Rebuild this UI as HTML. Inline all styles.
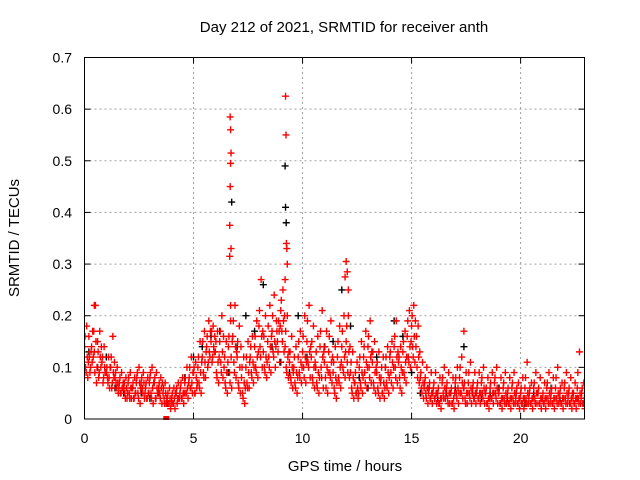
<!DOCTYPE html>
<html><head><meta charset="utf-8"><style>
html,body{margin:0;padding:0;background:#fff;}
svg{display:block;font-family:"Liberation Sans",sans-serif;}
</style></head><body>
<svg id="chart" width="640" height="480" viewBox="0 0 640 480">
<defs><clipPath id="pc"><rect x="84.5" y="57.5" width="500" height="365"/></clipPath></defs>
<text x="344" y="32" font-size="15" text-anchor="middle">Day 212 of 2021, SRMTID for receiver anth</text>
<text x="345" y="471" font-size="15" text-anchor="middle">GPS time / hours</text>
<text transform="translate(19,238) rotate(-90)" font-size="15" text-anchor="middle">SRMTID / TECUs</text>
<g id="grid"></g>
<g id="ticks"></g>
<g id="black" clip-path="url(#pc)"></g>
<g id="red" clip-path="url(#pc)"></g>
<rect x="84.5" y="57.5" width="500" height="361.5" fill="none" stroke="#000" stroke-width="1"/>
</svg>
<script>
const xTicks=[0,5,10,15,20];
const yTicks=[0,0.1,0.2,0.3,0.4,0.5,0.6,0.7];
const yTickLabels=["0","0.1","0.2","0.3","0.4","0.5","0.6","0.7"];
const trackStep=0.2;
const trackA=[.14,.16,.12,.15,.11,.09,.10,.08,.07,.06, .07,.06,.08,.07,.06,.08,.07,.06,.05,.04, .04,.05,.06,.07,.08,.09,.10,.12,.14,.15, .13,.15,.10,.14,.16,.12,.08,.10,.12,.14, .18,.13,.15,.17,.19,.21,.14,.11,.10,.12, .13,.15,.12,.10,.14,.11,.13,.09,.12,.14, .15,.09,.07,.10,.12,.14,.11,.09,.08,.10, .12,.14,.11,.13,.16,.18,.14,.08,.07,.06, .06,.05,.07,.06,.05,.07,.08,.06,.07,.06, .06,.07,.05,.06,.07,.05,.06,.05,.06,.05, .05,.06,.05,.06,.05,.04,.06,.05,.06,.05,.06,.05,.04,.06,.05];
const trackB=[.10,.09,.13,.08,.07,.08,.06,.07,.05,.05, .05,.04,.05,.06,.04,.05,.04,.05,.04,.03, .03,.03,.04,.05,.06,.05,.07,.09,.10,.11, .09,.11,.07,.09,.11,.07,.05,.07,.09,.10, .14,.10,.12,.13,.15,.17,.10,.08,.07,.09, .10,.11,.08,.07,.10,.08,.09,.06,.08,.10, .11,.06,.05,.07,.09,.10,.07,.06,.05,.07, .09,.10,.08,.09,.12,.14,.10,.06,.05,.04, .04,.03,.05,.04,.03,.05,.05,.04,.05,.04, .04,.05,.03,.04,.05,.03,.04,.03,.04,.03, .03,.04,.03,.04,.03,.03,.04,.03,.04,.03,.04,.03,.03,.04,.03];
const trackC=[.18,.13,.22,.17,.14,.12,.16,.10,.09,.08, .09,.08,.10,.09,.08,.10,.09,.08,.07,.06, .06,.07,.08,.10,.12,.11,.15,.17,.19,.18, .17,.20,.15,.19,.22,.18,.12,.15,.16,.19, .27,.20,.22,.24,.19,.25,.20,.16,.14,.17, .20,.22,.18,.16,.21,.17,.19,.14,.18,.20, .20,.13,.11,.15,.17,.19,.15,.13,.12,.14, .15,.19,.14,.17,.21,.22,.18,.11,.10,.09, .09,.08,.10,.09,.08,.10,.12,.09,.11,.09, .09,.10,.08,.09,.10,.08,.09,.08,.09,.07, .08,.11,.07,.09,.08,.07,.09,.08,.10,.07,.09,.08,.07,.13,.07];
const trackD=[.08,.11,.07,.10,.09,.06,.08,.05,.06,.04, .04,.05,.03,.04,.05,.03,.05,.03,.03,.02, .02,.04,.03,.04,.05,.06,.05,.08,.12,.13, .07,.08,.05,.06,.08,.05,.03,.06,.07,.08, .10,.08,.09,.10,.11,.13,.08,.06,.05,.07, .07,.08,.06,.05,.06,.05,.07,.04,.06,.08, .08,.04,.04,.05,.06,.07,.05,.04,.04,.05, .06,.07,.05,.07,.10,.11,.07,.04,.03,.03, .03,.02,.04,.03,.02,.03,.04,.03,.03,.03, .03,.03,.02,.03,.03,.02,.03,.02,.03,.02, .02,.03,.02,.03,.02,.02,.03,.02,.03,.02,.03,.02,.02,.03,.02];
const trackE=[.16,.12,.17,.13,.12,.10,.12,.09,.08,.07, .08,.07,.09,.08,.07,.09,.08,.07,.06,.05, .05,.06,.07,.08,.10,.10,.12,.15,.16,.17, .15,.17,.12,.16,.19,.15,.10,.12,.14,.16, .21,.16,.18,.20,.17,.23,.17,.13,.12,.15, .16,.19,.15,.13,.17,.14,.16,.11,.15,.17, .18,.11,.09,.12,.14,.16,.13,.11,.10,.12, .13,.16,.12,.15,.19,.20,.16,.09,.08,.07, .07,.06,.08,.07,.06,.08,.10,.07,.09,.07, .07,.08,.06,.07,.08,.06,.07,.06,.07,.06, .06,.08,.06,.07,.06,.05,.07,.06,.08,.06,.07,.06,.05,.09,.06];
const trackF=[.09,.10,.09,.09,.08,.07,.07,.06,.05,.04, .04,.04,.04,.05,.04,.04,.04,.04,.03,.03, .03,.04,.04,.05,.06,.05,.06,.08,.11,.12, .08,.09,.06,.07,.09,.06,.04,.06,.08,.09, .12,.09,.10,.12,.13,.15,.09,.07,.06,.08, .08,.10,.07,.06,.08,.06,.08,.05,.07,.09, .09,.05,.05,.06,.07,.08,.06,.05,.05,.06, .07,.08,.06,.08,.11,.12,.08,.05,.04,.04, .04,.03,.04,.03,.03,.04,.05,.03,.04,.04, .04,.04,.03,.04,.04,.03,.03,.03,.03,.03, .03,.03,.03,.03,.03,.03,.03,.03,.03,.03,.03,.03,.03,.03,.03];
const trackG=[.12,.14,.15,.12,.10,.08,.09,.07,.06,.06, .06,.05,.07,.07,.05,.06,.06,.06,.05,.04, .04,.04,.05,.06,.07,.08,.09,.11,.13,.14, .11,.13,.09,.12,.14,.10,.07,.09,.11,.12, .16,.12,.14,.15,.17,.19,.12,.10,.09,.11, .12,.13,.10,.09,.12,.10,.11,.08,.10,.12, .13,.08,.06,.09,.11,.12,.09,.08,.07,.09, .11,.12,.10,.11,.14,.16,.12,.07,.06,.05, .05,.04,.06,.05,.04,.06,.07,.05,.06,.05, .05,.06,.04,.05,.06,.04,.05,.04,.05,.04, .04,.05,.04,.05,.04,.04,.05,.04,.05,.04,.05,.04,.04,.05,.04];
const trackH=[.11,.17,.10,.14,.09,.10,.11,.06,.07,.05, .06,.07,.06,.05,.07,.07,.05,.07,.04,.03, .05,.05,.05,.07,.09,.07,.11,.13,.17,.16, .12,.16,.11,.15,.13,.14,.06,.11,.10,.13, .17,.11,.16,.14,.18,.20,.13,.09,.08,.10, .11,.14,.11,.08,.13,.09,.12,.07,.11,.13, .14,.07,.05,.08,.10,.13,.10,.07,.06,.08, .10,.13,.09,.12,.15,.19,.13,.06,.05,.05, .05,.04,.05,.05,.05,.05,.06,.05,.05,.05, .05,.05,.04,.05,.05,.04,.04,.04,.04,.04, .04,.04,.04,.05,.04,.04,.04,.04,.04,.04,.04,.05,.04,.04,.04];
const trackOffsets=[0,0.05,0.1,0.15,0.025,0.075,0.125,0.175];
const spikeX=[6.68,6.7,6.72,6.7,6.68,6.66,6.72,6.66,6.7,9.22,9.24,9.26,9.28,9.3,9.2,12.0,12.05,11.95,12.1,0.45,17.4];
const spikeY=[.585,.56,.515,.495,.45,.375,.33,.315,.22,.625,.55,.34,.33,.3,.27,.305,.285,.275,.25,.22,.17];
const blackStep=0.4;
const blackY=[.13,.10,.12,.06,.05,.06,.05,.04,.05,.03, .05,.08,.12,.14,.16,.17,.09,.14,.20,.17, .26,.14,.11,.09,.20,.12,.10,.14,.15,.25, .18,.08,.06,.12,.10,.19,.16,.09,.05,.06, .04,.05,.06,.14,.05,.04,.05,.06,.04,.05, .03,.05,.04,.06,.04,.05,.04,.03];
const blackSpikeX=[6.75,9.2,9.22,9.25];
const blackSpikeY=[.42,.49,.41,.38];
const X0=84.5,X1=584.5,Y0=419,Y1=57.5,XMAX=22.93,YMAX=0.7;
const sx=v=>X0+v/XMAX*(X1-X0);
const sy=v=>Y0-v/YMAX*(Y0-Y1);
const NS="http://www.w3.org/2000/svg";
const grid=document.getElementById('grid'),ticks=document.getElementById('ticks');
function mk(tag,attrs,parent){const e=document.createElementNS(NS,tag);for(const k in attrs)e.setAttribute(k,attrs[k]);parent.appendChild(e);return e;}
xTicks.forEach(v=>{const x=sx(v);
 const g=mk('line',{x1:x,x2:x,y1:Y0,y2:Y1,stroke:'#a0a0a0','stroke-dasharray':'2,3'},grid);
 
 
 const t=mk('text',{x:x,y:443,'font-size':14,'text-anchor':'middle'},ticks);t.textContent=String(v);
 
 
 mk('line',{x1:x,x2:x,y1:Y0,y2:Y0-6,stroke:'#000'},ticks);mk('line',{x1:x,x2:x,y1:Y1,y2:Y1+6,stroke:'#000'},ticks);});
yTicks.forEach((v,i)=>{const y=sy(v);
 const g=mk('line',{x1:X0,x2:X1,y1:y,y2:y,stroke:'#a0a0a0','stroke-dasharray':'2,3'},grid);
 
 
 const t=mk('text',{x:72,y:y+5,'font-size':14,'text-anchor':'end'},ticks);t.textContent=yTickLabels[i];
 
 
 mk('line',{x1:X0,x2:X0+6,y1:y,y2:y,stroke:'#000'},ticks);mk('line',{x1:X1,x2:X1-6,y1:y,y2:y,stroke:'#000'},ticks);});
function plus(x,y,color,parent){const p=mk('path',{d:`M${x-3.5},${y}h7M${x},${y-3.5}v7`,stroke:color,'stroke-width':1.4,fill:'none'},parent);
 
 }
const blk=document.getElementById('black'),red=document.getElementById('red');
blackY.forEach((v,i)=>plus(sx(i*blackStep+0.2),sy(v),'#000',blk));
blackSpikeX.forEach((v,i)=>plus(sx(v),sy(blackSpikeY[i]),'#000',blk));
[trackA,trackB,trackC,trackD,trackE,trackF,trackG,trackH].forEach((tr,k)=>tr.forEach((v,i)=>plus(sx(i*trackStep+trackOffsets[k]),sy(v),'#f00',red)));
spikeX.forEach((v,i)=>plus(sx(v),sy(spikeY[i]),'#f00',red));
const sq=mk('rect',{x:sx(3.75)-3,y:Y0-3,width:6,height:4,fill:'#f00'},red);


</script>
</body></html>
